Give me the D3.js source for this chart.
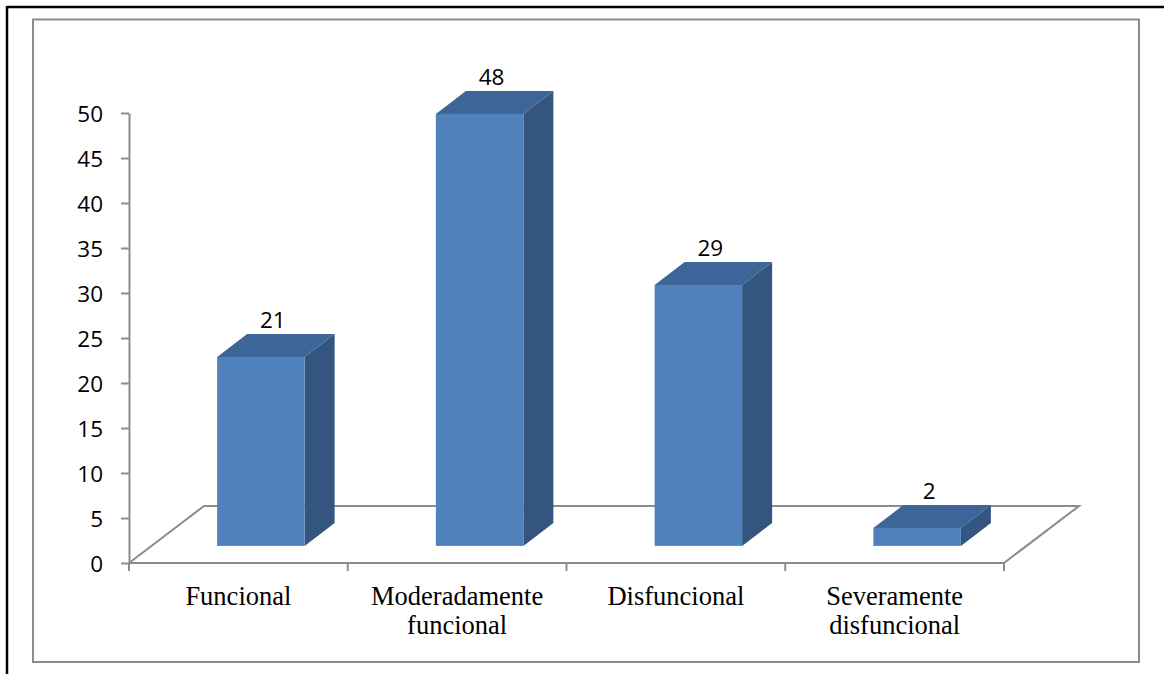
<!DOCTYPE html>
<html><head><meta charset="utf-8">
<script src="https://cdn.jsdelivr.net/npm/d3@7"></script>
<style>
html,body{margin:0;padding:0;background:#fff;}
svg{display:block;}
</style></head>
<body>
<svg id="c" width="1164" height="674"></svg>
<script>
const categories = [["Funcional"], ["Moderadamente", "funcional"], ["Disfuncional"], ["Severamente", "disfuncional"]];
const values = [21, 48, 29, 2];
const yTicks = [0, 5, 10, 15, 20, 25, 30, 35, 40, 45, 50];

const svg = d3.select("#c");
const W = 1164, H = 674;

// document frame
svg.append("line").attr("x1", 7).attr("y1", 7).attr("x2", W).attr("y2", 7).attr("stroke", "#000").attr("stroke-width", 2.5);
svg.append("line").attr("x1", 7).attr("y1", 6).attr("x2", 7).attr("y2", H).attr("stroke", "#000").attr("stroke-width", 2.5);
// chart area frame
svg.append("rect").attr("x", 33).attr("y", 19.5).attr("width", 1106).attr("height", 642.5)
  .attr("fill", "none").attr("stroke", "#8c8c8c").attr("stroke-width", 2);

const x0 = 129, x1 = 1004, yBase = 563, yTop = 113;
const depthX = 75, depthY = -57;
const keys = categories.map((c, i) => i);
const x = d3.scaleBand().domain(keys).range([x0, x1]).paddingInner(0).paddingOuter(0);
const y = d3.scaleLinear().domain([0, 50]).range([yBase, yTop]);

const gray = "#8c8c8c";

// floor
const floor = svg.append("g").attr("stroke", gray).attr("stroke-width", 2).attr("fill", "none");
floor.append("path").attr("d", d3.line()([
  [x0, yBase], [x0 + depthX, yBase + depthY], [x1 + depthX, yBase + depthY], [x1, yBase]
]));
floor.append("line").attr("x1", x0).attr("y1", yBase).attr("x2", x1).attr("y2", yBase);
// category ticks
floor.selectAll("line.ct").data(d3.range(categories.length + 1)).join("line")
  .attr("class", "ct")
  .attr("x1", i => x0 + i * x.bandwidth()).attr("x2", i => x0 + i * x.bandwidth())
  .attr("y1", yBase).attr("y2", yBase + 8);

// y axis
const yAxis = d3.axisLeft(y).tickValues(yTicks).tickSize(8).tickSizeOuter(0).tickPadding(18);
const ga = svg.append("g").attr("transform", `translate(${x0},0)`).call(yAxis);
ga.select(".domain").attr("stroke", gray).attr("stroke-width", 2);
ga.selectAll(".tick line").attr("stroke", gray).attr("stroke-width", 2);
ga.selectAll(".tick text").attr("font-family", "'Open Sans', sans-serif").attr("font-size", 22.5).attr("fill", "#000")
  .attr("dy", "0.36em");

// bars
const fShift = 0.3, bDepth = 0.4;
const fx = depthX * fShift, fy = depthY * fShift;
const bx = depthX * bDepth, by = depthY * bDepth;
const barW = x.bandwidth() * 0.4;
const bars = svg.append("g");
keys.forEach(i => {
  const v = values[i];
  const left = x(i) + (x.bandwidth() - barW) / 2 + fx;
  const right = left + barW;
  const bottom = y(0) + fy;
  const top = y(v) + fy;
  // side
  bars.append("path").attr("fill", "#33557f")
    .attr("d", d3.line()([[right, bottom], [right + bx, bottom + by], [right + bx, top + by], [right, top]]) + "Z");
  // top
  bars.append("path").attr("fill", "#3d6598")
    .attr("d", d3.line()([[left, top], [left + bx, top + by], [right + bx, top + by], [right, top]]) + "Z");
  // front
  bars.append("rect").attr("x", left).attr("y", top).attr("width", barW).attr("height", bottom - top).attr("fill", "#4f81bd");
  // label
  svg.append("text").attr("x", (left + right) / 2 + 12).attr("y", top + by - 6)
    .attr("text-anchor", "middle").attr("font-family", "'Open Sans', sans-serif").attr("font-size", 22.5)
    .attr("fill", "#000").text(v);
});

// category labels
keys.forEach(i => {
  const t = svg.append("text").attr("text-anchor", "middle")
    .attr("font-family", "'Liberation Serif', 'Times New Roman', serif").attr("font-size", 26.5).attr("fill", "#000");
  categories[i].forEach((line, j) => {
    t.append("tspan").attr("x", x(i) + x.bandwidth() / 2).attr("y", 605 + j * 29).text(line);
  });
});
</script>
</body></html>
